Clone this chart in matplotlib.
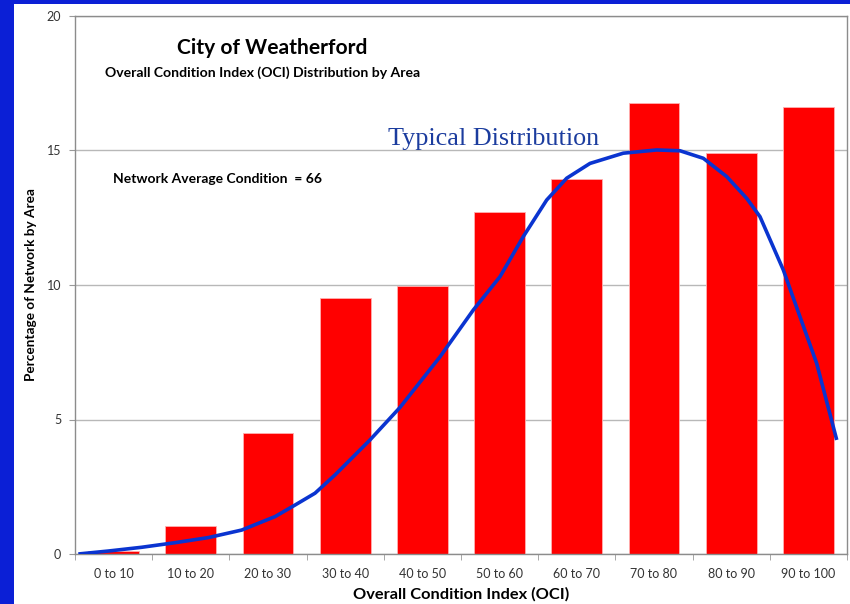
import matplotlib
matplotlib.use("Agg")
import matplotlib.pyplot as plt
from matplotlib.patches import Rectangle

categories = ["0 to 10", "10 to 20", "20 to 30", "30 to 40", "40 to 50",
              "50 to 60", "60 to 70", "70 to 80", "80 to 90", "90 to 100"]
bar_centers = [5, 15, 25, 35, 45, 55, 65, 75, 85, 95]
percent_area = [0.1, 1.05, 4.49, 9.5, 9.95, 12.72, 13.94, 16.77, 14.91, 16.6]

curve_oci = [0.43, 4.31, 8.64, 12.95, 17.27, 21.59, 25.91, 28.50, 31.09, 33.68,
             38.21, 42.10, 47.28, 51.59, 55.05, 58.07, 61.10, 63.69, 66.71,
             71.02, 75.35, 78.37, 81.39, 84.42, 87.01, 88.73, 91.75, 93.91,
             96.07, 98.67]
curve_pct = [0.0, 0.11, 0.25, 0.42, 0.61, 0.89, 1.39, 1.82, 2.26, 2.94,
             4.24, 5.45, 7.33, 9.07, 10.31, 11.8, 13.16, 13.97, 14.52,
             14.9, 15.02, 14.99, 14.71, 14.03, 13.22, 12.54, 10.56, 8.82,
             7.09, 4.24]

yticks = [0, 5, 10, 15, 20]

plt.rcParams['font.family'] = ['Lato', 'DejaVu Sans']

W, H = 850, 604
fig = plt.figure(figsize=(W / 100, H / 100), dpi=100)
fig.patch.set_facecolor("white")

# blue slide frame
fig.add_artist(Rectangle((0, 0), 14 / W, 1, transform=fig.transFigure,
                         facecolor="#0b1fd6", edgecolor="none", zorder=0))
fig.add_artist(Rectangle((0, 1 - 4 / H), 1, 4 / H, transform=fig.transFigure,
                         facecolor="#0b1fd6", edgecolor="none", zorder=0))

ax = fig.add_axes([75 / W, 50 / H, 772 / W, 538 / H])
ax.bar(bar_centers, percent_area, width=6.6, color="#ff0000",
       edgecolor="#ffb0b0", linewidth=0.6, zorder=2)
ax.plot(curve_oci, curve_pct, color="#0a34d0", linewidth=2.6, zorder=3,
        solid_capstyle="butt", solid_joinstyle="round")

ax.set_xlim(0, 100)
ax.set_ylim(0, 20)
ax.set_yticks(yticks)
ax.set_yticklabels([str(v) for v in yticks])
ax.set_xticks(bar_centers)
ax.set_xticklabels(categories)
ax.set_xticks(list(range(0, 101, 10)), minor=True)
ax.tick_params(axis="x", which="major", length=0, labelsize=9,
               labelcolor="#333333", pad=10)
ax.tick_params(axis="x", which="minor", length=4, color="#999999", direction="out")
ax.tick_params(axis="y", length=4, color="#999999", labelsize=9,
               labelcolor="#333333", pad=6)
ax.grid(axis="y", color="#b8b8b8", linewidth=1.0, zorder=0)
ax.set_axisbelow(True)
for s in ax.spines.values():
    s.set_color("#8c8c8c")
    s.set_linewidth(1.0)

ax.set_xlabel("Overall Condition Index (OCI)", fontsize=11.8, fontweight="bold",
              labelpad=5)
ax.set_ylabel("Percentage of Network by Area", fontsize=9.8, fontweight="bold",
              labelpad=7)

fig.text(272 / W, 1 - 48 / H, "City of Weatherford", fontsize=15.1,
         fontweight="bold", ha="center", va="center")
fig.text(105 / W, 1 - 73 / H, "Overall Condition Index (OCI) Distribution by Area",
         fontsize=10.1, fontweight="bold", ha="left", va="center")
fig.text(113 / W, 1 - 179 / H, "Network Average Condition  = 66",
         fontsize=10.0, fontweight="bold", ha="left", va="center")
fig.text(388 / W, 1 - 139 / H, "Typical Distribution", fontsize=18.8,
         family=["Liberation Serif"], color="#1b3c9e", ha="left", va="center")

fig.savefig("out.png", dpi=100)
